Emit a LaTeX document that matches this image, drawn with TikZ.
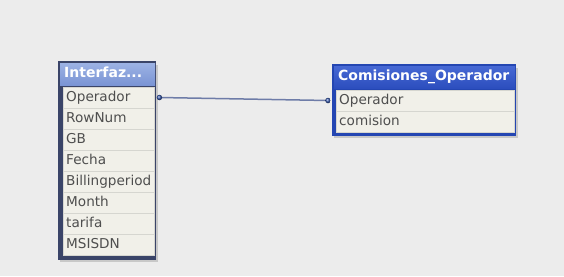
\documentclass[tikz,border=0pt]{standalone}
\usepackage{fontspec}
\setmainfont{DejaVu Sans}
\usetikzlibrary{positioning, backgrounds}
\definecolor{canvas}{RGB}{236,236,236}
\definecolor{rowfill}{RGB}{241,240,233}
\definecolor{rowline}{RGB}{214,214,208}
\definecolor{rowtext}{RGB}{78,78,78}
\definecolor{shadowgray}{RGB}{200,200,200}
\definecolor{paleframe}{RGB}{58,68,104}
\definecolor{palehigh}{RGB}{156,178,228}
\definecolor{palelow}{RGB}{122,148,212}
\definecolor{deepframe}{RGB}{36,70,178}
\definecolor{deephigh}{RGB}{70,104,212}
\definecolor{deeplow}{RGB}{44,78,190}
\definecolor{linkblue}{RGB}{110,124,168}
\definecolor{dotblue}{RGB}{50,84,170}
\tikzset{
    field/.style={rectangle, draw=rowline, fill=rowfill, inner xsep=3pt, inner ysep=0pt,
        minimum height=20.6pt, text width=#1, align=left, text=rowtext,
        text height=10pt, text depth=3pt,
        font=\fontsize{13.6}{15}\selectfont},
    tablehead/.style={rectangle, inner xsep=4pt, inner ysep=0pt, minimum height=22pt,
        text width=#1, align=left, text=white, text height=10.5pt, text depth=3pt,
        font=\fontsize{14}{16}\bfseries\selectfont},
    link/.style={draw=linkblue, line width=1.5pt},
    linkdot/.style={circle, inner sep=0pt, minimum size=5.5pt, shading=ball, ball color=dotblue},
}

\begin{document}
\begin{tikzpicture}[x=1pt, y=-1pt]
    \useasboundingbox (0,0) rectangle (564,276);

    % Interfaz table
    \node[tablehead=87pt, top color=palehigh, bottom color=palelow, anchor=north west] (ihead) at (60,63) {Interfaz...};
    \node[field=85pt, anchor=north west] (iop) at (63,87) {Operador};
    \node[field=85pt, below=0pt of iop] (irow) {RowNum};
    \node[field=85pt, below=0pt of irow] (igb) {GB};
    \node[field=85pt, below=0pt of igb] (ifecha) {Fecha};
    \node[field=85pt, below=0pt of ifecha] (ibill) {Billingperiod};
    \node[field=85pt, below=0pt of ibill] (imonth) {Month};
    \node[field=85pt, below=0pt of imonth] (itarifa) {tarifa};
    \node[field=85pt, below=0pt of itarifa] (ims) {MSISDN};

    % Comisiones_Operador table
    \node[tablehead=173pt, top color=deephigh, bottom color=deeplow, anchor=north west] (chead) at (334,66) {Comisiones\_Operador};
    \node[field=172pt, anchor=north west] (cop) at (336,90) {Operador};
    \node[field=172pt, below=0pt of cop] (ccom) {comision};

    % frames and shadows
    \begin{scope}[on background layer]
        \fill[canvas] (0,0) rectangle (564,276);
        \fill[shadowgray] (ihead.north west) ++(0,2) rectangle ([xshift=4pt,yshift=-7pt]ims.south east);
        \fill[paleframe] ([xshift=-2pt,yshift=2pt]ihead.north west) rectangle ([xshift=2pt,yshift=-5pt]ims.south east);
        \fill[shadowgray] (chead.north west) ++(0,2) rectangle ([xshift=4pt,yshift=-6pt]ccom.south east);
        \fill[deepframe] ([xshift=-2pt,yshift=2pt]chead.north west) rectangle ([xshift=2pt,yshift=-4pt]ccom.south east);
    \end{scope}

    % key link on Operador
    \draw[link] ([xshift=5pt]iop.east) -- ([xshift=-8pt]cop.west);
    \node[linkdot] at ([xshift=5pt]iop.east) {};
    \node[linkdot] at ([xshift=-8pt]cop.west) {};
\end{tikzpicture}
\end{document}
